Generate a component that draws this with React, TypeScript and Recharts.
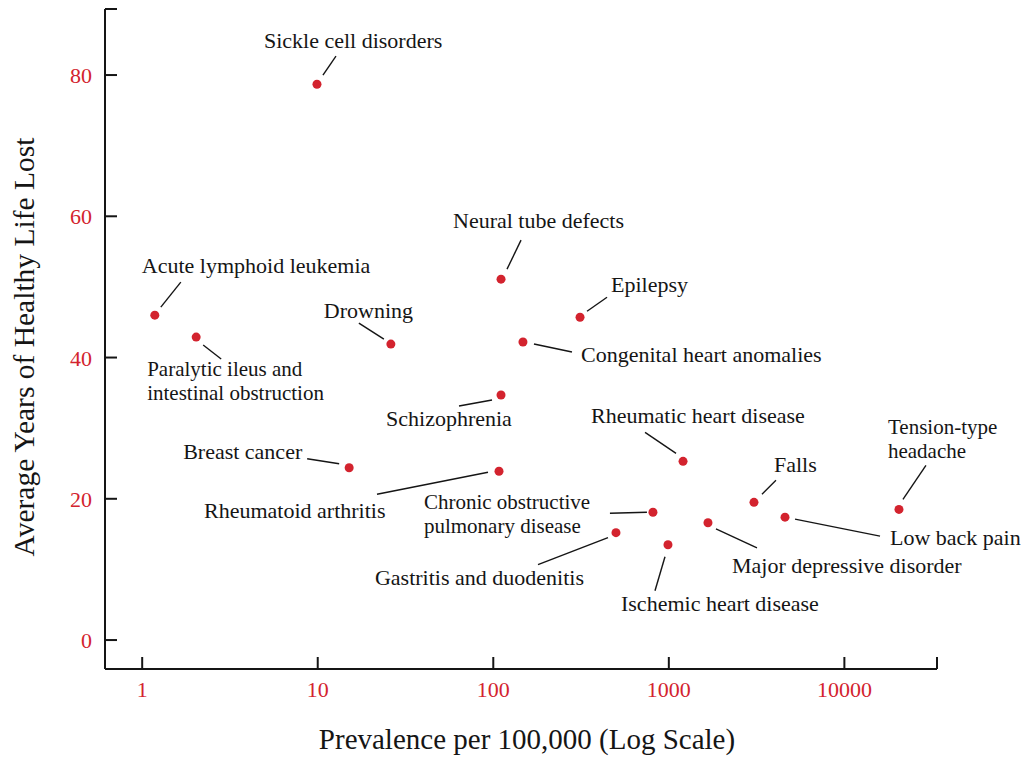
import React from "react";
import { ScatterChart, Scatter, XAxis, YAxis } from "recharts";

const diseases = [
  "Sickle cell disorders",
  "Acute lymphoid leukemia",
  "Paralytic ileus and\nintestinal obstruction",
  "Drowning",
  "Neural tube defects",
  "Epilepsy",
  "Congenital heart anomalies",
  "Schizophrenia",
  "Breast cancer",
  "Rheumatoid arthritis",
  "Chronic obstructive\npulmonary disease",
  "Gastritis and duodenitis",
  "Ischemic heart disease",
  "Rheumatic heart disease",
  "Falls",
  "Major depressive disorder",
  "Low back pain",
  "Tension-type\nheadache",
];

// prevalence per 100,000
const prevalence = [
  9.9, 1.18, 2.03, 26.1, 110.7, 312, 147.6, 110.7, 15.1,
  107.8, 812, 500, 989, 1205, 3055, 1671, 4590, 20460,
];

// average years of healthy life lost
const yearsLost = [
  78.7, 46.0, 42.9, 41.9, 51.1, 45.7, 42.2, 34.7, 24.4,
  23.9, 18.1, 15.2, 13.5, 25.3, 19.5, 16.6, 17.4, 18.5,
];

const xTickValues = [1, 10, 100, 1000, 10000];
const yTickValues = [0, 20, 40, 60, 80];
const xDomain: [number, number] = [0.614, 33700];
const yDomain: [number, number] = [-4.1, 89.35];

const RED = "#d3232e";
const INK = "#151515";
const FONT = "'Liberation Serif', serif";
const LINE_GAP = 24;

// where each annotation sits relative to its dot: text start and leader line
const labelLayout: Record<string, { tx: number; ty: number; lead: number[] }> = {
  "Sickle cell disorders": { tx: -53, ty: -36, lead: [6, -9, 19, -28] },
  "Acute lymphoid leukemia": { tx: -13, ty: -42, lead: [6, -8, 26, -33] },
  "Paralytic ileus and\nintestinal obstruction": { tx: -49, ty: 39, lead: [7, 8, 25, 22] },
  "Drowning": { tx: -67, ty: -26, lead: [-7, -5, -32, -21] },
  "Neural tube defects": { tx: -48, ty: -51, lead: [6, -10, 20, -39] },
  "Epilepsy": { tx: 31, ty: -25, lead: [7, -6, 27, -20] },
  "Congenital heart anomalies": { tx: 58, ty: 20, lead: [11, 2, 49, 10] },
  "Schizophrenia": { tx: -115, ty: 31, lead: [-9, 5, -42, 11] },
  "Breast cancer": { tx: -166, ty: -9, lead: [-10, -4, -42, -9] },
  "Rheumatoid arthritis": { tx: -295, ty: 47, lead: [-11, 1, -122, 23] },
  "Chronic obstructive\npulmonary disease": { tx: -229, ty: -3, lead: [-6, 0, -43, 1] },
  "Gastritis and duodenitis": { tx: -241, ty: 52, lead: [-8, 5, -78, 32] },
  "Ischemic heart disease": { tx: -47, ty: 66, lead: [-3, 12, -13, 46] },
  "Rheumatic heart disease": { tx: -92, ty: -38, lead: [-7, -8, -38, -29] },
  "Falls": { tx: 20, ty: -30, lead: [8, -8, 22, -22] },
  "Major depressive disorder": { tx: 24, ty: 50, lead: [8, 6, 49, 25] },
  "Low back pain": { tx: 105, ty: 28, lead: [10, 2, 95, 19] },
  "Tension-type\nheadache": { tx: -11, ty: -75, lead: [4, -10, 27, -44] },
};

const points = diseases.map((name, i) => ({ name, x: prevalence[i], y: yearsLost[i] }));

const DotWithLabel = (props: any) => {
  const { cx, cy, payload } = props;
  const lay = labelLayout[payload.name];
  const lines = payload.name.split("\n");
  const size = lines.length > 1 ? 21 : 22;
  return (
    <g>
      <line
        x1={cx + lay.lead[0]}
        y1={cy + lay.lead[1]}
        x2={cx + lay.lead[2]}
        y2={cy + lay.lead[3]}
        stroke={INK}
        strokeWidth={1.4}
      />
      {lines.map((l: string, i: number) => (
        <text
          key={i}
          x={cx + lay.tx}
          y={cy + lay.ty + i * LINE_GAP}
          fontFamily={FONT}
          fontSize={size}
          fill={INK}
        >
          {l}
        </text>
      ))}
      <circle cx={cx} cy={cy} r={4.5} fill={RED} />
    </g>
  );
};

const XTick = (props: any) => {
  const { x, y, payload } = props;
  const show = xTickValues.includes(payload.value);
  return (
    <g>
      <line x1={x} y1={y} x2={x} y2={y - 12} stroke={INK} strokeWidth={2} />
      {show && (
        <text x={x} y={y + 28} textAnchor="middle" fontFamily={FONT} fontSize={22} fill={RED}>
          {payload.value}
        </text>
      )}
    </g>
  );
};

const YTick = (props: any) => {
  const { x, y, payload } = props;
  const show = yTickValues.includes(payload.value);
  return (
    <g>
      <line x1={x} y1={y} x2={x + 12} y2={y} stroke={INK} strokeWidth={2} />
      {show && (
        <text x={x - 13} y={y + 8} textAnchor="end" fontFamily={FONT} fontSize={22} fill={RED}>
          {payload.value}
        </text>
      )}
    </g>
  );
};

export default function App() {
  return (
    <div style={{ position: "absolute", left: 0, top: 0, background: "#fff" }}>
      <ScatterChart width={1025} height={758} margin={{ top: 9, right: 88, bottom: 0, left: 0 }}>
        <XAxis
          dataKey="x"
          type="number"
          scale="log"
          domain={xDomain}
          ticks={[...xTickValues, xDomain[1]]}
          interval={0}
          height={89}
          tickSize={0}
          tickMargin={0}
          tick={<XTick />}
          axisLine={{ stroke: INK, strokeWidth: 2 }}
          label={{
            content: () => (
              <text x={527} y={749} textAnchor="middle" fontFamily={FONT} fontSize={29} fill={INK}>
                Prevalence per 100,000 (Log Scale)
              </text>
            ),
          }}
        />
        <YAxis
          dataKey="y"
          type="number"
          domain={yDomain}
          ticks={[...yTickValues, yDomain[1]]}
          interval={0}
          width={105}
          tickSize={0}
          tickMargin={0}
          tick={<YTick />}
          axisLine={{ stroke: INK, strokeWidth: 2 }}
          label={{
            content: () => (
              <text
                x={34}
                y={347}
                transform="rotate(-90 34 347)"
                textAnchor="middle"
                fontFamily={FONT}
                fontSize={29.5}
                fill={INK}
              >
                Average Years of Healthy Life Lost
              </text>
            ),
          }}
        />
        <Scatter data={points} shape={<DotWithLabel />} isAnimationActive={false} />
      </ScatterChart>
    </div>
  );
}
